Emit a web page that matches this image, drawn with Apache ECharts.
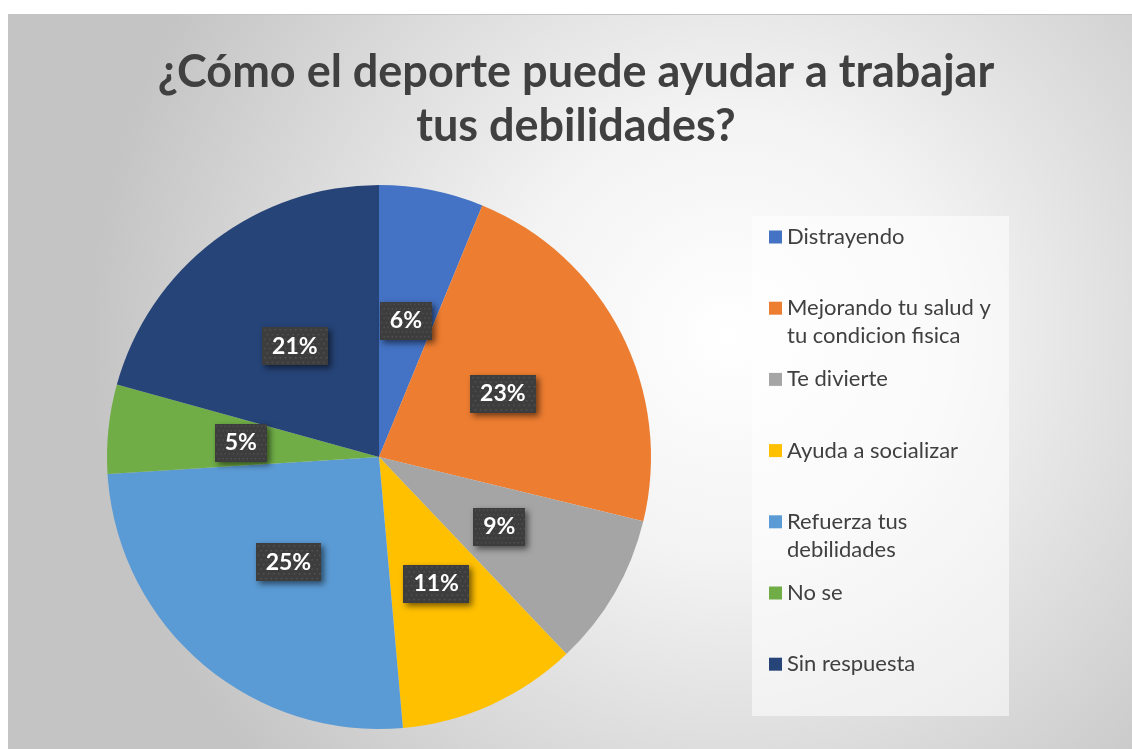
<!DOCTYPE html>
<html>
<head>
<meta charset="utf-8">
<script src="https://cdn.jsdelivr.net/npm/echarts@6/dist/echarts.min.js"></script>
<style>
  html, body { margin: 0; padding: 0; background: #fff; }
  #chart {
    position: absolute; left: 8px; top: 14px; width: 1124px; height: 735px;
    box-sizing: border-box; border-top: 1px solid #c4c4c4; border-left: 1px solid #c4c4c4;
  }
</style>
</head>
<body>
<div id="chart"></div>
<script>
// datos (porcentaje de respuestas)
const categories = [
  'Distrayendo',
  'Mejorando tu salud y tu condicion fisica',
  'Te divierte',
  'Ayuda a socializar',
  'Refuerza tus debilidades',
  'No se',
  'Sin respuesta'
];
const shares = [6.2, 22.6, 9.1, 10.7, 25.4, 5.3, 20.7];
const legendLabels = [
  'Distrayendo',
  'Mejorando tu salud y\ntu condicion fisica',
  'Te divierte',
  'Ayuda a socializar',
  'Refuerza tus\ndebilidades',
  'No se',
  'Sin respuesta'
];
const colors = ['#4472C4', '#ED7D31', '#A5A5A5', '#FFC000', '#5B9BD5', '#70AD47', '#264478'];
const titleText = '¿Cómo el deporte puede ayudar a trabajar\ntus debilidades?';

const FONT = 'Lato, "Open Sans", sans-serif';

// fondo punteado de las etiquetas
function dotPattern() {
  const c = document.createElement('canvas');
  c.width = 64; c.height = 41;
  const ctx = c.getContext('2d');
  ctx.fillStyle = '#3d3d3d';
  ctx.fillRect(0, 0, 64, 41);
  ctx.fillStyle = '#575757';
  for (let y = 2; y < 41; y += 5) {
    for (let x = (y % 10 === 2 ? 2 : 4.5); x < 64; x += 5) {
      ctx.fillRect(x, y, 1.5, 1.5);
    }
  }
  return c;
}

const chart = echarts.init(document.getElementById('chart'));

// una leyenda por elemento para mantener el espaciado uniforme;
// en las de dos lineas se antepone una linea vacia para que el
// cuadro quede a la altura de la primera linea
const legends = categories.map((name, i) => {
  const twoLines = legendLabels[i].indexOf('\n') >= 0;
  const center = 222 + i * 71.2;
  return {
    orient: 'vertical',
    left: 760,
    top: center - (twoLines ? 42 : 14),
    padding: 0,
    itemWidth: 13,
    itemHeight: 13,
    icon: 'rect',
    data: [name],
    formatter: () => (twoLines ? ' \n' : '') + legendLabels[i],
    textStyle: {
      fontFamily: FONT,
      fontSize: 22,
      color: '#404040',
      lineHeight: 28
    }
  };
});

chart.setOption({
  backgroundColor: {
    type: 'radial', x: 720, y: 320, r: 640, global: true,
    colorStops: [
      { offset: 0, color: '#ffffff' },
      { offset: 0.35, color: '#f3f3f3' },
      { offset: 1, color: '#c4c4c4' }
    ]
  },
  color: colors,
  title: {
    text: titleText,
    left: 567,
    top: 30,
    padding: 0,
    textAlign: 'center',
    textVerticalAlign: 'top',
    textStyle: {
      fontFamily: FONT,
      fontSize: 45,
      fontWeight: 'bold',
      color: '#404040',
      lineHeight: 54
    }
  },
  graphic: [{
    type: 'rect',
    left: 743, top: 201, z: -1, silent: true,
    shape: { width: 257, height: 500 },
    style: { fill: 'rgba(255,255,255,0.55)' }
  }],
  legend: legends,
  series: [{
    type: 'pie',
    center: [370, 442],
    radius: 272,
    startAngle: 90,
    clockwise: true,
    animation: false,
    data: categories.map((name, i) => ({ name, value: shares[i] })),
    itemStyle: { borderWidth: 0 },
    label: {
      position: 'inside',
      formatter: p => Math.round(p.percent) + '%',
      fontFamily: FONT,
      fontSize: 23,
      fontWeight: 'bold',
      color: '#ffffff',
      backgroundColor: { image: dotPattern() },
      padding: [8, 10, 7, 10],
      shadowColor: 'rgba(0,0,0,0.55)',
      shadowBlur: 6,
      shadowOffsetX: 3,
      shadowOffsetY: 3
    },
    labelLine: { show: false },
    emphasis: { scale: false }
  }]
});
</script>
</body>
</html>
